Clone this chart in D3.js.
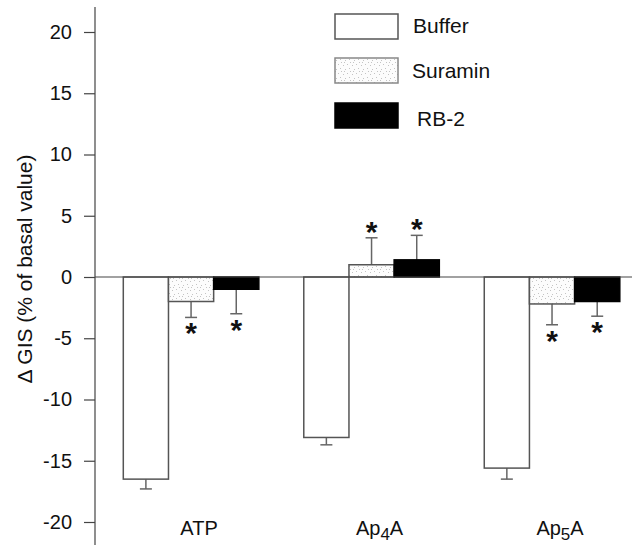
<!DOCTYPE html>
<html><head><meta charset="utf-8">
<script src="https://cdn.jsdelivr.net/npm/d3@7"></script>
<style>body{margin:0;background:#fff}svg{display:block}text{font-family:"Liberation Sans",Arial,sans-serif}</style>
</head><body><svg id="c" width="632" height="545"></svg>
<script>
const categories = ["ATP", "Ap4A", "Ap5A"];
const categoryLabels = [["ATP", ""], ["Ap", "4", "A"], ["Ap", "5", "A"]];
const seriesNames = ["Buffer", "Suramin", "RB-2"];
const bufferValues = [-16.5, -13.1, -15.6];
const bufferErrors = [0.8, 0.6, 0.9];
const suraminValues = [-2.0, 1.0, -2.2];
const suraminErrors = [1.3, 2.2, 1.7];
const rb2Values = [-1.0, 1.4, -2.0];
const rb2Errors = [2.0, 2.0, 1.2];
const bufferSig = [false, false, false];
const suraminSig = [true, true, true];
const rb2Sig = [true, true, true];
const yTicks = [-20, -15, -10, -5, 0, 5, 10, 15, 20];

const svg = d3.select("#c");
const defs = svg.append("defs");
const pat = defs.append("pattern").attr("id","stip").attr("patternUnits","userSpaceOnUse")
  .attr("width",9).attr("height",9);
pat.append("rect").attr("width",9).attr("height",9).attr("fill","#fcfcfc");
[[1,2],[5,1],[3,6],[7,5],[8,8],[2,8]].forEach(([a,b])=>pat.append("rect").attr("x",a).attr("y",b).attr("width",1).attr("height",1).attr("fill","#c4c4c4"));

const y = d3.scaleLinear().domain([-20, 20]).range([522, 32]);
const x0 = d3.scaleBand().domain(categories).range([123.3, 619.8]).paddingInner(0.249).paddingOuter(0);
const x1 = d3.scaleBand().domain(seriesNames).range([0, x0.bandwidth()]);

const seriesData = [
  {name:"Buffer", vals:bufferValues, errs:bufferErrors, sig:bufferSig, fill:"#fff"},
  {name:"Suramin", vals:suraminValues, errs:suraminErrors, sig:suraminSig, fill:"url(#stip)"},
  {name:"RB-2", vals:rb2Values, errs:rb2Errors, sig:rb2Sig, fill:"#000"}
];
const stroke = "#555";

// Y axis
const axisX = 95;
const yAxis = svg.append("g").attr("transform", `translate(${axisX},0)`)
  .call(d3.axisLeft(y).tickValues(yTicks).tickSize(11).tickPadding(12).tickFormat(d3.format("d")));
yAxis.select(".domain").attr("d", `M0,7V545`).attr("stroke", "#444").attr("stroke-width", 1.2);
yAxis.selectAll(".tick line").attr("stroke", "#444").attr("stroke-width", 1.2);
yAxis.selectAll(".tick text").attr("font-size", 20).attr("fill", "#111")
  .attr("font-family", "Liberation Sans, Arial, sans-serif").text(d => d < 0 ? "-" + Math.abs(d) : d);

svg.append("text").attr("transform", `translate(32,269) rotate(-90)`)
  .attr("text-anchor","middle").attr("font-size",21).attr("fill","#111")
  .text("\u0394 GIS (% of basal value)");

// Bars
seriesData.forEach(s => {
  const g = svg.append("g");
  categories.forEach((c, i) => {
    const v = s.vals[i];
    const bx = x0(c) + x1(s.name);
    const bw = x1.bandwidth();
    const cx = bx + bw / 2;
    const dir = v < 0 ? -1 : 1;
    const tip = v + dir * s.errs[i];
    g.append("line").attr("x1", cx).attr("x2", cx).attr("y1", y(v)).attr("y2", y(tip))
      .attr("stroke", "#666").attr("stroke-width", 1.5);
    g.append("line").attr("x1", cx - 6).attr("x2", cx + 6).attr("y1", y(tip)).attr("y2", y(tip))
      .attr("stroke", "#666").attr("stroke-width", 1.5);
    g.append("rect").attr("x", bx).attr("width", bw)
      .attr("y", y(Math.max(0, v))).attr("height", Math.abs(y(v) - y(0)))
      .attr("fill", s.fill).attr("stroke", s.name === "RB-2" ? "#000" : stroke).attr("stroke-width", 1.5);
    if (s.sig[i]) {
      const cy = y(tip) + (dir < 0 ? 9 : -13);
      g.append("text").attr("x", cx).attr("y", cy + 17).attr("text-anchor","middle")
        .attr("font-weight", "bold")
        .attr("font-size", 30).attr("fill", "#111").text("*");
    }
  });
});

// zero line
svg.append("line").attr("x1", axisX).attr("x2", 632).attr("y1", y(0)).attr("y2", y(0))
  .attr("stroke", "#444").attr("stroke-width", 1.2);

// category labels
categories.forEach((c, i) => {
  const parts = categoryLabels[i];
  const t = svg.append("text").attr("x", x0(c) + x0.bandwidth() / 2 + 8).attr("y", 535)
    .attr("text-anchor", "middle").attr("font-size", 20).attr("fill", "#111");
  t.append("tspan").text(parts[0]);
  if (parts.length > 2) {
    t.append("tspan").attr("dy", 5).attr("font-size", 17).text(parts[1]);
    t.append("tspan").attr("dy", -5).text(parts[2]);
  }
});

// legend
const legY = [14, 58, 103];
const legTextX = [413, 412, 417];
const legBase = [33, 78, 126];
seriesData.forEach((s, i) => {
  svg.append("rect").attr("x", 335).attr("y", legY[i]).attr("width", 63).attr("height", 25)
    .attr("fill", s.fill).attr("stroke", s.name === "RB-2" ? "#000" : (s.name === "Suramin" ? "#888" : stroke))
    .attr("stroke-width", 1.5);
  svg.append("text").attr("x", legTextX[i]).attr("y", legBase[i]).attr("font-size", 21)
    .attr("fill", "#111").text(s.name);
});
</script></body></html>
